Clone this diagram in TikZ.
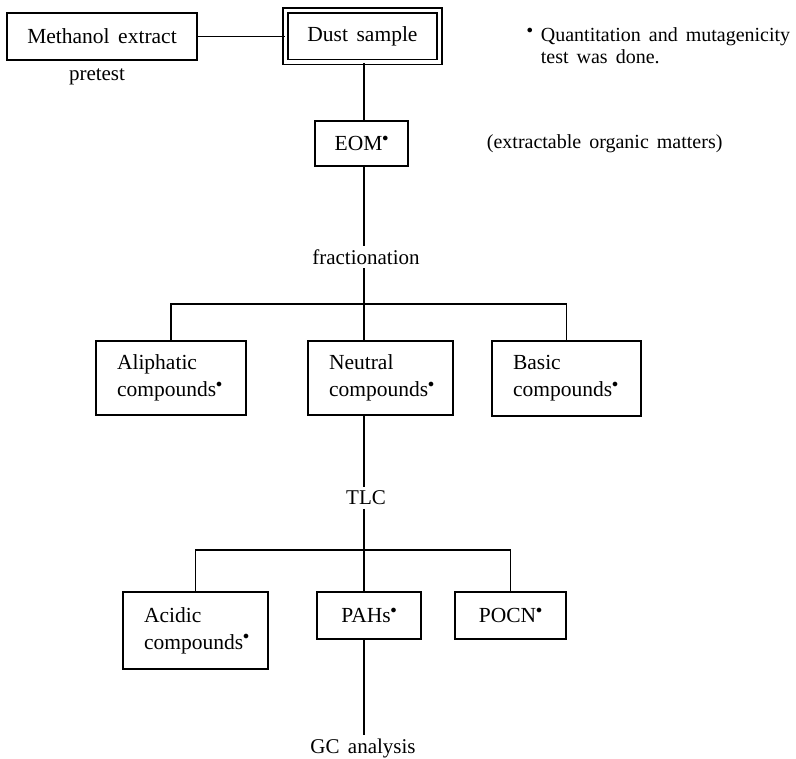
\documentclass[tikz,border=0pt]{standalone}
\usepackage{fontspec}
\setmainfont{Liberation Serif}
\usetikzlibrary{calc}
\newcommand{\dt}{\raisebox{0.44em}{\fontsize{13}{13}\selectfont$\bullet$}}
\newcommand{\wsp}{\spaceskip=.4em plus .1em\relax}

\begin{document}
\begin{tikzpicture}[x=1pt,y=-1pt,line width=1.8pt,
	txt/.style={inner sep=3pt,font=\fontsize{21}{22}\selectfont\wsp},
	note/.style={txt,font=\fontsize{20}{22}\selectfont\wsp},
	box/.style={draw,inner sep=0pt,align=center,font=\fontsize{21.5}{27}\selectfont\wsp},
	tbox/.style={box,align=left,inner xsep=21pt}]
	\useasboundingbox (0,0) rectangle (796,759);
	\coordinate (t) at (364,0);
	% boxes
	\node[box,minimum width=190,minimum height=47] (meth) at (102,36.5) {Methanol extract};
	\node[box,double,double distance=3.2pt,minimum width=154,minimum height=51.5] (dust) at (362.5,36.25) {Dust sample};
	\node[box,minimum width=93,minimum height=45] (eom) at (361.5,143.5) {EOM\dt};
	\foreach \n/\x/\y/\w/\h/\t in{ali/171/378/108/74/Aliphatic,neu/380.5/378/103/74/Neutral,bas/566.5/378.5/107/75/Basic,acid/195.5/630.5/103/77/Acidic}{
		\node[tbox,text width=\w pt,minimum height=\h] (\n) at (\x,\y) {\t\\compounds\dt};}
	\node[box,minimum width=104,minimum height=47] (pah) at (369,615.5) {PAHs\dt};
	\node[box,minimum width=111,minimum height=47] (pocn) at (510.5,615.5) {POCN\dt};
	% texts
	\node[txt] (pre) at (97,77) {pretest};
	\node[txt] (frac) at (366,257) {fractionation};
	\node[txt] (tlc) at (366,498) {TLC};
	\node[txt] (gc) at (363,748) {GC analysis};
	\node[note,anchor=west,align=left] (qnote) at (537,46) {\llap{\dt\ }Quantitation and mutagenicity\\test was done.};
	\node[note,anchor=west] (eomtxt) at (483,144) {(extractable organic matters)};
	% lines
	\draw (meth.east) -- (meth.east -| dust.west);
	\draw (dust.south -| t) -- (eom.north -| t);
	\draw (eom.south -| t) -- (frac.north -| t);
	\draw (frac.south -| t) -- (neu.north -| t);
	\coordinate (b1) at (364,304);
	\draw (ali.north) |- (b1) -| (bas.north);
	\draw (neu.south -| t) -- (tlc.north -| t);
	\draw (tlc.south -| t) -- (pah.north -| t);
	\coordinate (b2) at (364,550);
	\draw (acid.north) |- (b2) -| (pocn.north);
	\draw (pah.south -| t) -- (gc.north -| t);
\end{tikzpicture}
\end{document}
